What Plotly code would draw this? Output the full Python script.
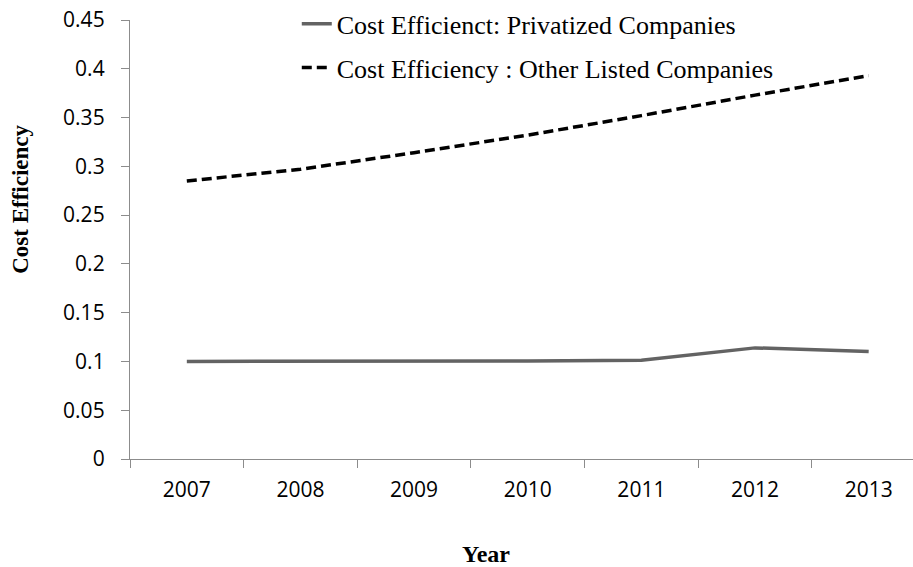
import plotly.graph_objects as go

years = ["2007", "2008", "2009", "2010", "2011", "2012", "2013"]
privatized = [0.100, 0.100, 0.100, 0.1005, 0.1013, 0.1139, 0.1102]
other_listed = [0.285, 0.297, 0.314, 0.332, 0.352, 0.373, 0.393]
y_ticks = [0, 0.05, 0.1, 0.15, 0.2, 0.25, 0.3, 0.35, 0.4, 0.45]
y_tick_text = ["0", "0.05", "0.1", "0.15", "0.2", "0.25", "0.3", "0.35", "0.4", "0.45"]

serif = "Liberation Serif, Times New Roman, serif"
sans = "Open Sans, sans-serif"

fig = go.Figure()
fig.add_trace(go.Scatter(
    x=years, y=privatized, mode="lines",
    name="Cost Efficienct: Privatized Companies",
    line=dict(color="#636363", width=3.5),
    legendgroup="a",
))
fig.add_trace(go.Scatter(
    x=years, y=other_listed, mode="lines",
    name="Cost Efficiency : Other Listed Companies",
    line=dict(color="#000000", width=3.5, dash="10px,5px"),
    legendgroup="b",
))

fig.update_layout(
    width=913, height=567,
    margin=dict(l=130, r=0, t=17, b=108),
    paper_bgcolor="white", plot_bgcolor="white",
    showlegend=True,
    legend=dict(
        x=0.213, y=1.045, xanchor="left", yanchor="top",
        font=dict(family=serif, size=26, color="#000000"),
        bgcolor="rgba(0,0,0,0)",
        traceorder="grouped", tracegroupgap=7,
    ),
    xaxis=dict(
        type="category", range=[-0.5, 6.39],
        showline=True, linecolor="#8c8c8c", linewidth=1.3,
        ticks="outside", ticklen=8, tickcolor="#8c8c8c", tickwidth=1.3,
        tickson="boundaries",
        showgrid=False, zeroline=False,
        tickfont=dict(family=sans, size=21, color="#000000"),
        ticklabelstandoff=12,
    ),
    yaxis=dict(
        range=[0, 0.45],
        tickvals=y_ticks, ticktext=y_tick_text,
        showline=True, linecolor="#8c8c8c", linewidth=1.3,
        ticks="outside", ticklen=8, tickcolor="#8c8c8c", tickwidth=1.3,
        showgrid=False, zeroline=False,
        tickfont=dict(family=sans, size=21, color="#000000"),
        ticklabelstandoff=12,
    ),
    annotations=[
        dict(text="<b>Year</b>", xref="paper", yref="paper",
             x=(486 - 130) / (913 - 130), y=-(555 - 459) / (459 - 17),
             xanchor="center", yanchor="middle", showarrow=False,
             font=dict(family=serif, size=24, color="#000000")),
        dict(text="<b>Cost Efficiency</b>", xref="paper", yref="paper",
             x=-(130 - 21) / (913 - 130), y=(459 - 198) / (459 - 17),
             textangle=-90,
             xanchor="center", yanchor="middle", showarrow=False,
             font=dict(family=serif, size=23, color="#000000")),
    ],
)

fig.write_html("out.html")
